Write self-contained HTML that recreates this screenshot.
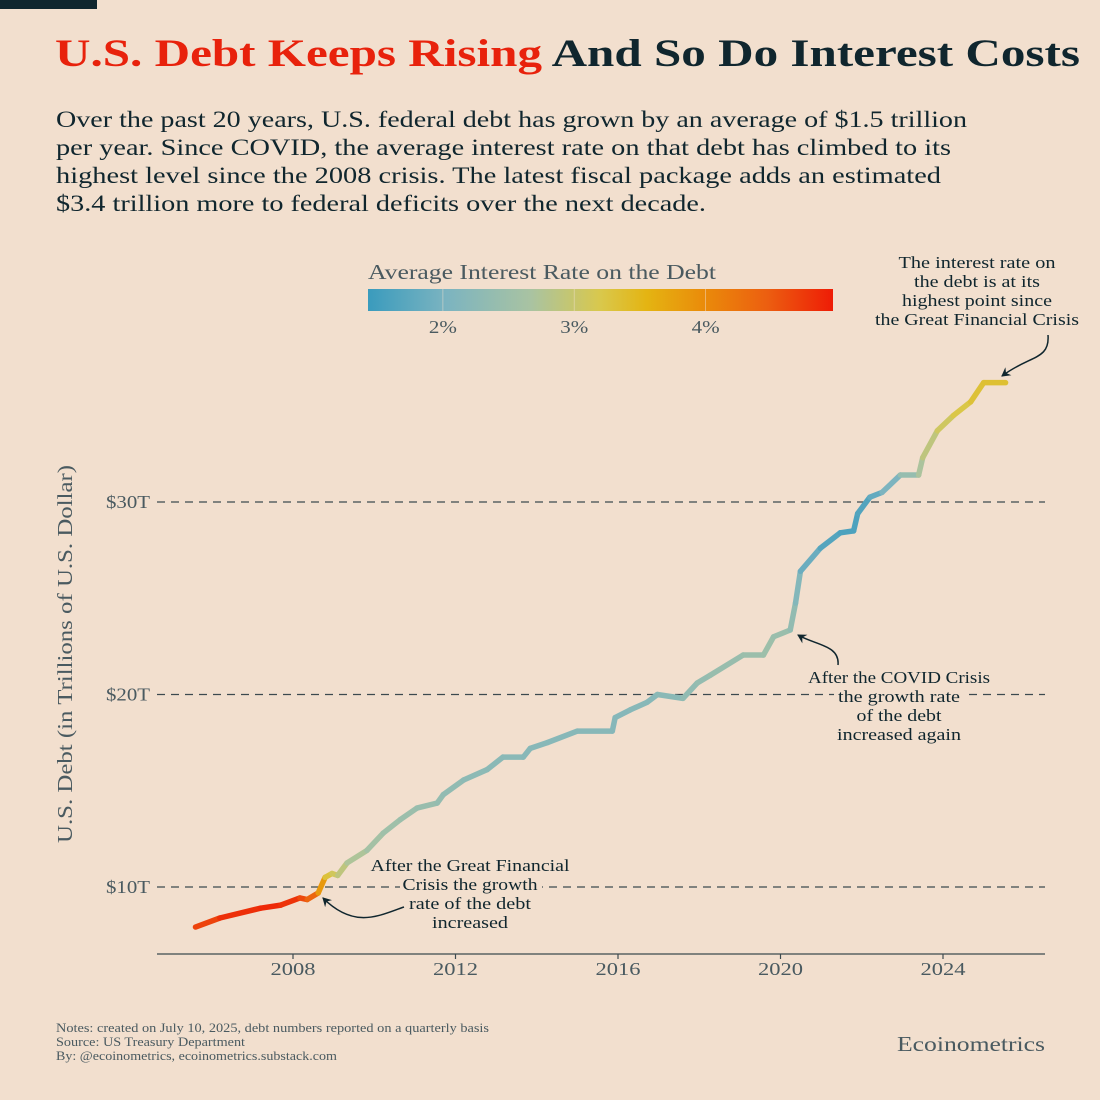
<!DOCTYPE html>
<html><head><meta charset="utf-8"><style>
html,body{margin:0;padding:0;background:#f2dfce;}
svg{display:block;font-family:"Liberation Serif",serif;}
</style></head><body>
<svg id="chart" width="1100" height="1100" viewBox="0 0 1100 1100">
<defs>
<linearGradient id="cb" x1="0" x2="1" y1="0" y2="0">
<stop offset="0" stop-color="#3a9bbd"/><stop offset="0.17" stop-color="#7cb4c0"/><stop offset="0.35" stop-color="#a9c3a2"/><stop offset="0.5" stop-color="#d9c84c"/><stop offset="0.6" stop-color="#e4b412"/><stop offset="0.72" stop-color="#ea8c0a"/><stop offset="0.86" stop-color="#ec5e10"/><stop offset="1" stop-color="#ee1c06"/>
</linearGradient>
<marker id="ah" markerWidth="10" markerHeight="10" refX="8" refY="5" orient="auto" markerUnits="userSpaceOnUse"><path d="M0,0 L9,5 L0,10 L3,5 Z" fill="#10262e"/></marker>
</defs>
<rect x="0" y="0" width="1100" height="1100" fill="#f2dfce"/>
<rect x="0" y="0" width="97" height="9" fill="#10262e"/>
<text x="55" y="66" font-size="39" font-weight="bold" textLength="1025" lengthAdjust="spacingAndGlyphs"><tspan fill="#e8220c">U.S. Debt Keeps Rising</tspan><tspan fill="#10262e"> And So Do Interest Costs</tspan></text>
<g font-size="23.5" fill="#10262e">
<text x="56" y="127" textLength="911" lengthAdjust="spacingAndGlyphs">Over the past 20 years, U.S. federal debt has grown by an average of $1.5 trillion</text>
<text x="56" y="155" textLength="895" lengthAdjust="spacingAndGlyphs">per year. Since COVID, the average interest rate on that debt has climbed to its</text>
<text x="56" y="183" textLength="885" lengthAdjust="spacingAndGlyphs">highest level since the 2008 crisis. The latest fiscal package adds an estimated</text>
<text x="56" y="211" textLength="650" lengthAdjust="spacingAndGlyphs">$3.4 trillion more to federal deficits over the next decade.</text>
</g>
<text x="368" y="279" font-size="21" fill="#4a5a60" textLength="348" lengthAdjust="spacingAndGlyphs">Average Interest Rate on the Debt</text>
<rect x="368" y="289" width="465" height="22" fill="url(#cb)"/>
<g id="cbticks" font-size="18" fill="#4a5a60" text-anchor="middle"></g>
<g id="grid"></g>
<g id="xaxis" font-size="18" fill="#4a5a60" text-anchor="middle"></g>
<text transform="translate(72,654) rotate(-90)" font-size="21" fill="#4a5a60" text-anchor="middle" textLength="378" lengthAdjust="spacingAndGlyphs">U.S. Debt (in Trillions of U.S. Dollar)</text>
<g id="series"></g>
<rect x="400" y="876" width="142" height="18" fill="#f2dfce"/>
<g font-size="17" fill="#10262e" text-anchor="middle">
<text x="470" y="871" textLength="199" lengthAdjust="spacingAndGlyphs">After the Great Financial</text>
<text x="470" y="890" textLength="135" lengthAdjust="spacingAndGlyphs">Crisis the growth</text>
<text x="470" y="909" textLength="122" lengthAdjust="spacingAndGlyphs">rate of the debt</text>
<text x="470" y="928" textLength="76" lengthAdjust="spacingAndGlyphs">increased</text>
</g>
<path d="M404,907 C380,915 355,930 323,898" fill="none" stroke="#10262e" stroke-width="1.5" marker-end="url(#ah)"/>
<rect x="834" y="686" width="132" height="18" fill="#f2dfce"/>
<g font-size="17" fill="#10262e" text-anchor="middle">
<text x="899" y="683" textLength="182" lengthAdjust="spacingAndGlyphs">After the COVID Crisis</text>
<text x="899" y="702" textLength="122" lengthAdjust="spacingAndGlyphs">the growth rate</text>
<text x="899" y="721" textLength="85" lengthAdjust="spacingAndGlyphs">of the debt</text>
<text x="899" y="740" textLength="124" lengthAdjust="spacingAndGlyphs">increased again</text>
</g>
<path d="M838,665 C840,645 815,645 798,635" fill="none" stroke="#10262e" stroke-width="1.5" marker-end="url(#ah)"/>
<g font-size="17" fill="#10262e" text-anchor="middle">
<text x="977" y="268" textLength="157" lengthAdjust="spacingAndGlyphs">The interest rate on</text>
<text x="977" y="287" textLength="126" lengthAdjust="spacingAndGlyphs">the debt is at its</text>
<text x="977" y="306" textLength="150" lengthAdjust="spacingAndGlyphs">highest point since</text>
<text x="977" y="325" textLength="204" lengthAdjust="spacingAndGlyphs">the Great Financial Crisis</text>
</g>
<path d="M1048,335 C1050,360 1030,355 1002,376" fill="none" stroke="#10262e" stroke-width="1.5" marker-end="url(#ah)"/>
<g font-size="12.5" fill="#4a5a60">
<text x="56" y="1032" textLength="433" lengthAdjust="spacingAndGlyphs">Notes: created on July 10, 2025, debt numbers reported on a quarterly basis</text>
<text x="56" y="1046" textLength="189" lengthAdjust="spacingAndGlyphs">Source: US Treasury Department</text>
<text x="56" y="1060" textLength="281" lengthAdjust="spacingAndGlyphs">By: @ecoinometrics, ecoinometrics.substack.com</text>
</g>
<text x="897" y="1051" font-size="21" fill="#4a5a60" textLength="148" lengthAdjust="spacingAndGlyphs">Ecoinometrics</text>
</svg>
<script>
const years=[2005.6,2006.2,2007.2,2007.7,2008.17,2008.35,2008.62,2008.79,2008.96,2009.1,2009.33,2009.82,2010.22,2010.64,2011.05,2011.55,2011.7,2012.2,2012.78,2013.17,2013.67,2013.84,2014.26,2015.0,2015.86,2015.93,2016.3,2016.72,2016.97,2017.6,2017.95,2018.27,2019.08,2019.58,2019.83,2020.24,2020.37,2020.49,2020.98,2021.47,2021.8,2021.9,2022.2,2022.5,2022.95,2023.4,2023.5,2023.86,2024.26,2024.68,2025.0,2025.54];
const debt=[7.92,8.39,8.9,9.06,9.43,9.35,9.69,10.5,10.7,10.6,11.25,11.9,12.8,13.5,14.1,14.36,14.8,15.56,16.1,16.75,16.75,17.2,17.5,18.1,18.1,18.8,19.2,19.6,20.0,19.8,20.6,21.0,22.05,22.05,23.0,23.35,24.75,26.4,27.6,28.4,28.5,29.4,30.25,30.5,31.4,31.4,32.3,33.7,34.5,35.2,36.2,36.2];
const rates=[4.6,4.75,4.9,4.85,4.75,4.5,4.3,3.4,3.2,3.0,2.8,2.65,2.55,2.5,2.45,2.4,2.35,2.3,2.25,2.25,2.2,2.2,2.2,2.2,2.2,2.15,2.2,2.2,2.2,2.3,2.35,2.4,2.45,2.5,2.5,2.4,2.3,2.0,1.75,1.6,1.6,1.6,1.7,1.9,2.2,2.6,2.8,3.0,3.15,3.3,3.35,3.35];
const xTicks=[2008,2012,2016,2020,2024];
const yTicks=[10,20,30];
const cbTicks=[2,3,4];
const NS="http://www.w3.org/2000/svg";
const X=y=>293+(y-2008)*40.625;
const Y=d=>887-(d-10)*19.25;
const CB=r=>368+(r-1.43)/(4.97-1.43)*465;
const stops=[[0,[58,155,189]],[0.17,[124,180,192]],[0.35,[169,195,162]],[0.5,[217,200,76]],[0.6,[228,180,18]],[0.72,[234,140,10]],[0.86,[236,94,16]],[1,[238,28,6]]];
function col(r){let t=Math.max(0,Math.min(1,(r-1.43)/(4.97-1.43)));for(let i=1;i<stops.length;i++){if(t<=stops[i][0]){const a=stops[i-1],b=stops[i],f=(t-a[0])/(b[0]-a[0]);return 'rgb('+a[1].map((v,k)=>Math.round(v+(b[1][k]-v)*f)).join(',')+')';}}return 'rgb(238,28,6)';}
function mk(tag,attrs,parent){const e=document.createElementNS(NS,tag);for(const k in attrs)e.setAttribute(k,attrs[k]);parent.appendChild(e);return e;}
const cbt=document.getElementById('cbticks');
cbTicks.forEach(r=>{const l=mk('line',{x1:CB(r),x2:CB(r),y1:289,y2:311,stroke:'#f2dfce','stroke-width':0.8,opacity:0.6},cbt);


const t=mk('text',{x:CB(r),y:333,textLength:28,lengthAdjust:'spacingAndGlyphs'},cbt);t.textContent=r+'%';

});
const grid=document.getElementById('grid');
yTicks.forEach(v=>{const l=mk('line',{x1:157,x2:1045,y1:Y(v),y2:Y(v),stroke:'#3d4a4f','stroke-width':1.2,'stroke-dasharray':'8,6'},grid);


const t=mk('text',{x:150,y:Y(v)+6,'font-size':18,fill:'#4a5a60','text-anchor':'end',textLength:44,lengthAdjust:'spacingAndGlyphs'},grid);t.textContent='$'+v+'T';

});
const xa=document.getElementById('xaxis');
const ax=mk('line',{x1:157,x2:1045,y1:954,y2:954,stroke:'#3d4a4f','stroke-width':1.2},xa);


xTicks.forEach(v=>{const l=mk('line',{x1:X(v),x2:X(v),y1:954,y2:959,stroke:'#3d4a4f','stroke-width':1.2},xa);


const t=mk('text',{x:X(v),y:975,textLength:45,lengthAdjust:'spacingAndGlyphs'},xa);t.textContent=v;

});
const s=document.getElementById('series');


for(let i=1;i<years.length;i++){const seg=mk('line',{x1:X(years[i-1]),y1:Y(debt[i-1]),x2:X(years[i]),y2:Y(debt[i]),stroke:col((rates[i-1]+rates[i])/2),'stroke-width':5.5,'stroke-linecap':'round'},s);

}
</script>
</body></html>
